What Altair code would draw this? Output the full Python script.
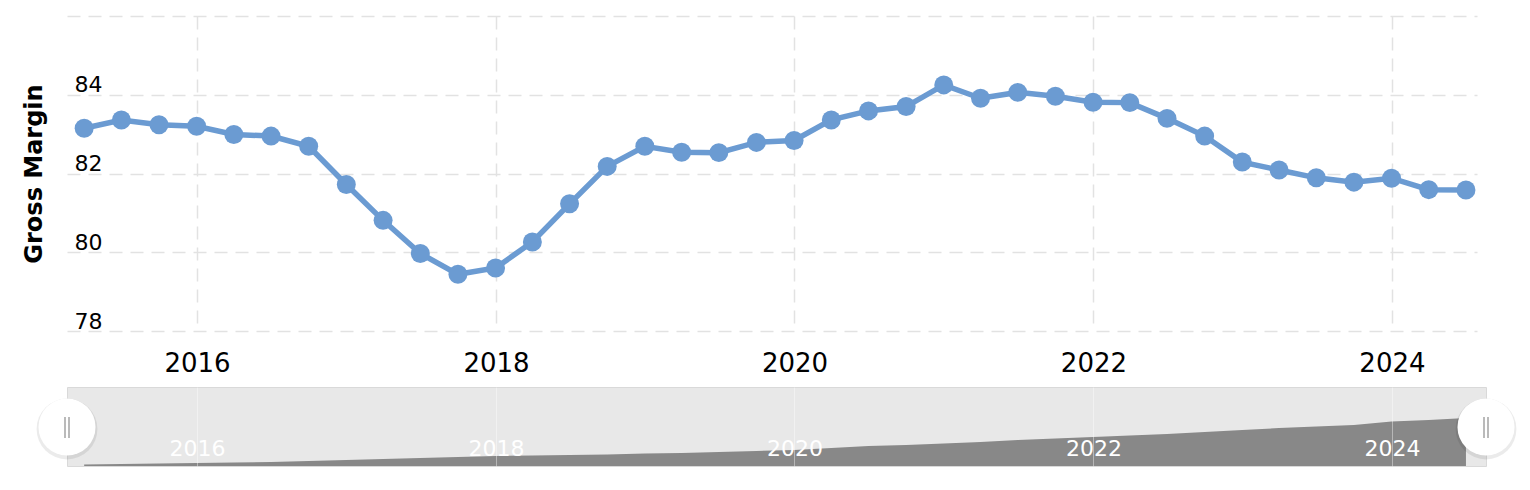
import altair as alt
import pandas as pd

quarter_ends = [
    "2015-03-31", "2015-06-30", "2015-09-30", "2015-12-31",
    "2016-03-31", "2016-06-30", "2016-09-30", "2016-12-31",
    "2017-03-31", "2017-06-30", "2017-09-30", "2017-12-31",
    "2018-03-31", "2018-06-30", "2018-09-30", "2018-12-31",
    "2019-03-31", "2019-06-30", "2019-09-30", "2019-12-31",
    "2020-03-31", "2020-06-30", "2020-09-30", "2020-12-31",
    "2021-03-31", "2021-06-30", "2021-09-30", "2021-12-31",
    "2022-03-31", "2022-06-30", "2022-09-30", "2022-12-31",
    "2023-03-31", "2023-06-30", "2023-09-30", "2023-12-31",
    "2024-03-31", "2024-06-30",
]
gross_margin = [
    83.15, 83.36, 83.24, 83.20, 82.99, 82.95, 82.69, 81.72,
    80.81, 79.97, 79.44, 79.60, 80.26, 81.23, 82.18, 82.69,
    82.54, 82.53, 82.79, 82.84, 83.36, 83.59, 83.70, 84.25,
    83.91, 84.06, 83.96, 83.81, 83.80, 83.40, 82.95, 82.29,
    82.09, 81.89, 81.78, 81.88, 81.59, 81.58,
]
# series shown in the navigator strip (arbitrary units)
navigator_series = [
    1.5, 2.0, 2.5, 3.0, 3.5, 4.0, 5.0, 6.0,
    7.0, 8.0, 9.0, 10.0, 10.5, 11.0, 11.5, 12.5,
    13.0, 14.0, 15.0, 16.0, 18.0, 20.0, 21.0, 22.5,
    24.0, 26.0, 27.5, 29.0, 30.5, 32.0, 34.0, 36.0,
    38.0, 39.5, 41.0, 44.5, 46.0, 48.0,
]
year_ticks = [2016, 2018, 2020, 2022, 2024]
margin_ticks = [78, 80, 82, 84, 86]
handle_dates = ["2015-02-17", "2024-08-18"]

df = pd.DataFrame({"date": quarter_ends, "margin": gross_margin, "nav": navigator_series})
handles = pd.DataFrame({"date": handle_dates})

line_color = "#6b9bd2"
tick_dates = [alt.DateTime(year=y, utc=True) for y in year_ticks]

x_main = alt.Scale(type="utc", domain=[alt.DateTime(year=2015, month=2, date=17, utc=True),
                                       alt.DateTime(year=2024, month=7, date=27, utc=True)])
x_nav = alt.Scale(type="utc", domain=[alt.DateTime(year=2015, month=2, date=17, utc=True),
                                      alt.DateTime(year=2024, month=8, date=18, utc=True)])

grid_style = dict(domain=False, ticks=False, tickSize=0, gridColor="#e2e2e2",
                  gridDash=[13, 8], gridWidth=1.5)

base = alt.Chart(df).encode(
    x=alt.X("date:T", scale=x_main,
            axis=alt.Axis(values=tick_dates, format="%Y", title=None, labelFontSize=26,
                          labelColor="black", labelPadding=40, labelBaseline="alphabetic",
                          **grid_style)),
    y=alt.Y("margin:Q", scale=alt.Scale(domain=[78, 86], nice=False, zero=False),
            axis=alt.Axis(values=margin_ticks, labelExpr="datum.value > 85 ? '' : datum.label",
                          labelAlign="left", labelPadding=-7, labelOffset=-3,
                          labelBaseline="alphabetic", labelFontSize=22, labelColor="black",
                          title="Gross Margin", titleFontSize=24, titleFontWeight="bold",
                          titleColor="black", titleX=-21, **grid_style)),
)

main = (
    base.mark_line(color=line_color, strokeWidth=5.5)
    + base.mark_circle(color=line_color, size=360, opacity=1)
).properties(width=1410, height=315, view=alt.ViewBackground(strokeWidth=0))

nav_x = alt.X("date:T", scale=x_nav,
              axis=alt.Axis(values=tick_dates, format="%Y", title=None, labelFontSize=22,
                            labelColor="white", labelPadding=-11, labelBaseline="alphabetic",
                            gridColor="white", gridOpacity=0.4, gridWidth=1, domain=False,
                            ticks=False, tickSize=0, zindex=1))

nav_area = alt.Chart(df).mark_area(color="#888888", opacity=1).encode(
    x=nav_x,
    y=alt.Y("nav:Q", scale=alt.Scale(domain=[0, 79], nice=False), axis=None),
)

hbase = alt.Chart(handles).encode(x=alt.X("date:T", scale=x_nav))
shadow = hbase.mark_circle(color="black", opacity=0.08, size=3700, yOffset=2).encode(y=alt.value(40))
knob = hbase.mark_circle(color="white", opacity=1, size=3250).encode(y=alt.value(40))
bar_l = hbase.mark_rule(color="#8c8c8c", strokeWidth=1.2, xOffset=-2).encode(
    y=alt.value(30), y2=alt.value(51))
bar_r = hbase.mark_rule(color="#8c8c8c", strokeWidth=1.2, xOffset=2).encode(
    y=alt.value(30), y2=alt.value(51))

nav = alt.layer(nav_area, shadow, knob, bar_l, bar_r).properties(
    width=1419, height=79,
    view=alt.ViewBackground(fill="#e8e8e8", stroke="#d9d9d9", strokeWidth=1),
)

chart = alt.vconcat(main, nav, spacing=56, bounds="flush").properties(
    padding={"left": 14, "top": 8, "right": 0, "bottom": 0}
).configure(font="DejaVu Sans")

chart.save("out.html", embed_options={"renderer": "svg", "actions": False})
